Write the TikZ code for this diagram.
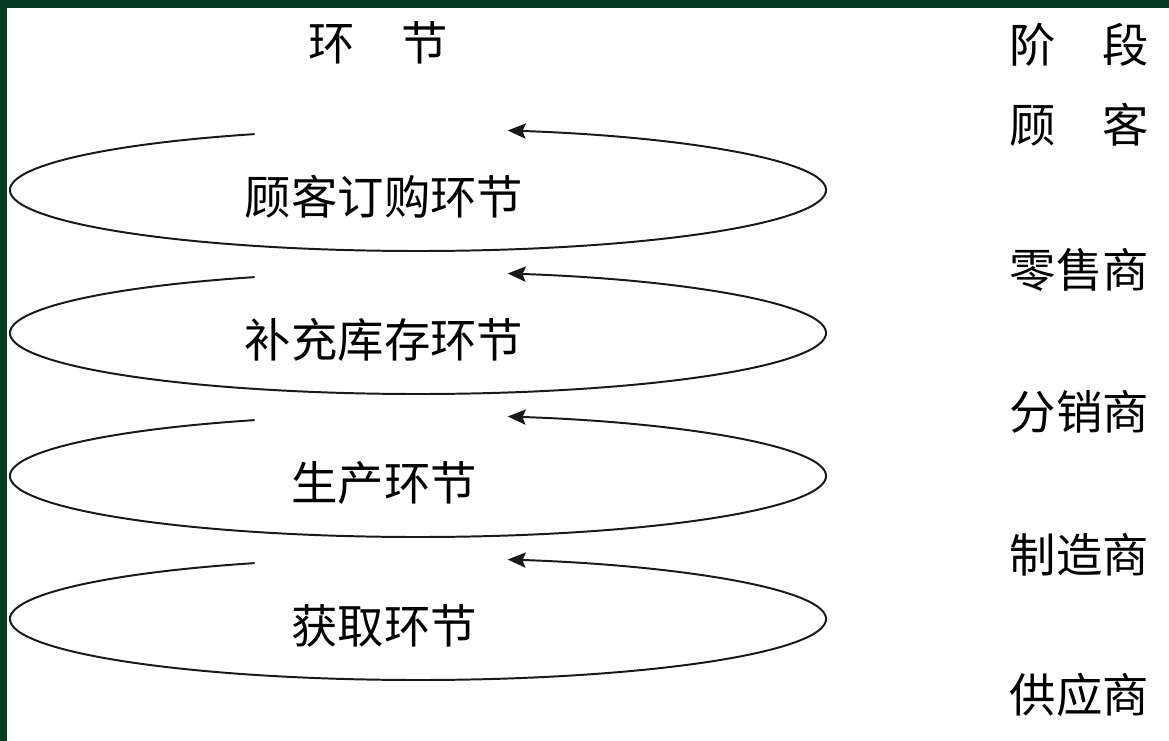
\documentclass[tikz,border=0pt]{standalone}
\usepackage{fontspec}
\newfontfamily\cjk{Noto Sans CJK SC}
\usetikzlibrary{positioning, arrows.meta}
\definecolor{framegreen}{RGB}{10,58,34}
\tikzstyle{label} = [font=\cjk\fontsize{33pt}{38pt}\selectfont, text=black, inner sep=0pt]
\tikzstyle{stage} = [label, text width=3.5cm, align=center]
\tikzstyle{cyclearrow} = [line width=1.4pt, black!90, -{Stealth[length=0.45cm, width=0.38cm, inset=0.08cm]}]

\begin{document}
\begin{tikzpicture}[node distance=3.575cm]

\useasboundingbox (0,0) rectangle (29.225,18.525);
\fill [framegreen] (0,0) rectangle (29.225,18.525);
\fill [white] (0.175,0) rectangle (29.225,18.325);

% headers
\node (cyclehead) [label] at (9.45,17.45) {环　节};
\node (stagehead) [stage] at (26.98,17.4) {阶　段};

% stages
\node (stage1) [stage, below of=stagehead, node distance=2cm] {顾　客};
\node (stage2) [stage, below of=stage1, node distance=3.625cm] {零售商};
\node (stage3) [stage, below of=stage2, node distance=3.55cm] {分销商};
\node (stage4) [stage, below of=stage3] {制造商};
\node (stage5) [stage, below of=stage4, node distance=3.5cm] {供应商};

% cycles
\node (cycle1) [label] at (9.6,13.6) {顾客订购环节};
\node (cycle2) [label, below of=cycle1] {补充库存环节};
\node (cycle3) [label, below of=cycle2] {生产环节};
\node (cycle4) [label, below of=cycle3] {获取环节};

\coordinate (e1) at (10.45,13.775);
\coordinate (e2) at (10.45,10.2);
\coordinate (e3) at (10.45,6.625);
\coordinate (e4) at (10.45,3.05);

\draw [cyclearrow] (e1) ++(113.6:10.2 and 1.525) arc [start angle=113.6, end angle=437.3, x radius=10.2, y radius=1.525];
\draw [cyclearrow] (e2) ++(113.6:10.2 and 1.525) arc [start angle=113.6, end angle=437.3, x radius=10.2, y radius=1.525];
\draw [cyclearrow] (e3) ++(113.6:10.2 and 1.525) arc [start angle=113.6, end angle=437.3, x radius=10.2, y radius=1.525];
\draw [cyclearrow] (e4) ++(113.6:10.2 and 1.525) arc [start angle=113.6, end angle=437.3, x radius=10.2, y radius=1.525];

\end{tikzpicture}
\end{document}
